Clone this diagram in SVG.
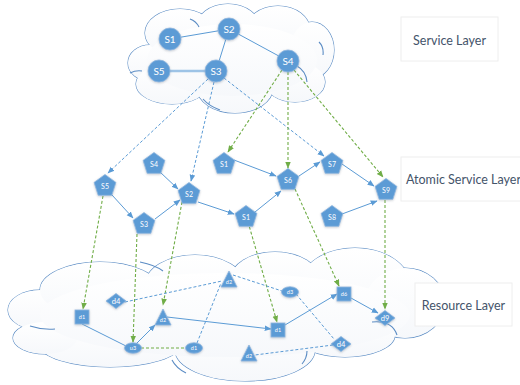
<svg xmlns="http://www.w3.org/2000/svg" width="520" height="385" viewBox="0 0 520 385">
<style>
.cl{fill:none;stroke:#5b8cc4;stroke-width:1.1}
.cf{fill:url(#cg);stroke:none}
.node{fill:#5b9bd5;stroke:#8fb6df;stroke-width:0.8;filter:url(#sh)}
.lb{font-family:Lato,"Liberation Sans",sans-serif;fill:#ffffff;text-anchor:middle;dominant-baseline:central}
.big{font-size:10px}
.mid{font-size:7px}
.sm{font-size:5.5px}
.dm{font-size:7.5px}
.box{fill:#ffffff;stroke:#eeeeee;stroke-width:1}
.lt{font-family:Lato,"Liberation Sans",sans-serif;font-size:12.5px;fill:#44546a;dominant-baseline:central}
.s{fill:none;stroke:#5b9bd5;stroke-width:1}
.d{fill:none;stroke:#5b9bd5;stroke-width:1;stroke-dasharray:3 2}
.g{fill:none;stroke:#70ad47;stroke-width:1.1;stroke-dasharray:3 2}
.ab{marker-end:url(#ma)}
.ag{marker-end:url(#mg)}
</style>
<defs>
<linearGradient id="cg" x1="0" y1="0" x2="0" y2="1">
<stop offset="0" stop-color="#ffffff"/>
<stop offset="1" stop-color="#f6f8fb"/>
</linearGradient>
<filter id="sh" x="-30%" y="-30%" width="160%" height="160%">
<feDropShadow dx="0" dy="0.8" stdDeviation="0.9" flood-color="#7a8796" flood-opacity="0.45"/>
</filter>
<marker id="ma" viewBox="0 0 10 10" refX="9" refY="5" markerWidth="7" markerHeight="7" markerUnits="userSpaceOnUse" orient="auto">
<path d="M0,1 L10,5 L0,9 z" fill="#5b9bd5"/>
</marker>
<marker id="mg" viewBox="0 0 10 10" refX="9" refY="5" markerWidth="7" markerHeight="7" markerUnits="userSpaceOnUse" orient="auto">
<path d="M0,1 L10,5 L0,9 z" fill="#70ad47"/>
</marker>
</defs>
<rect width="520" height="385" fill="#ffffff"/>

<g id="service-cloud">
<g class="cl">
<ellipse cx="150" cy="63" rx="22" ry="18"/>
<ellipse cx="180" cy="33" rx="35" ry="24"/>
<ellipse cx="228" cy="28" rx="32" ry="24"/>
<ellipse cx="278" cy="30" rx="32" ry="24"/>
<ellipse cx="312" cy="50" rx="22" ry="28"/>
<ellipse cx="295" cy="82" rx="30" ry="20"/>
<ellipse cx="235" cy="88" rx="38" ry="25"/>
<ellipse cx="172" cy="84" rx="36" ry="20"/>
</g>
<g class="cf">
<ellipse cx="150" cy="63" rx="22" ry="18"/>
<ellipse cx="180" cy="33" rx="35" ry="24"/>
<ellipse cx="228" cy="28" rx="32" ry="24"/>
<ellipse cx="278" cy="30" rx="32" ry="24"/>
<ellipse cx="312" cy="50" rx="22" ry="28"/>
<ellipse cx="295" cy="82" rx="30" ry="20"/>
<ellipse cx="235" cy="88" rx="38" ry="25"/>
<ellipse cx="172" cy="84" rx="36" ry="20"/>
<ellipse cx="232" cy="60" rx="85" ry="36"/>
</g>
<path class="cl" d="M203,99 Q209,106 220,110 M297,66 Q306,71 307,82 M190,19 Q196,21 199,27 M319,42 Q324,47 323,55 M130,73 Q136,70 142,71"/>
</g>

<g id="resource-cloud">
<g class="cl">
<ellipse cx="40" cy="310" rx="32" ry="20"/>
<ellipse cx="100" cy="290" rx="60" ry="28"/>
<ellipse cx="195" cy="285" rx="50" ry="30"/>
<ellipse cx="275" cy="280" rx="45" ry="28"/>
<ellipse cx="355" cy="285" rx="55" ry="37"/>
<ellipse cx="405" cy="303" rx="40" ry="35"/>
<ellipse cx="345" cy="335" rx="50" ry="22"/>
<ellipse cx="245" cy="350" rx="70" ry="31"/>
<ellipse cx="110" cy="345" rx="70" ry="22"/>
<ellipse cx="45" cy="338" rx="32" ry="16"/>
</g>
<g class="cf">
<ellipse cx="40" cy="310" rx="32" ry="20"/>
<ellipse cx="100" cy="290" rx="60" ry="28"/>
<ellipse cx="195" cy="285" rx="50" ry="30"/>
<ellipse cx="275" cy="280" rx="45" ry="28"/>
<ellipse cx="355" cy="285" rx="55" ry="37"/>
<ellipse cx="405" cy="303" rx="40" ry="35"/>
<ellipse cx="345" cy="335" rx="50" ry="22"/>
<ellipse cx="245" cy="350" rx="70" ry="31"/>
<ellipse cx="110" cy="345" rx="70" ry="22"/>
<ellipse cx="45" cy="338" rx="32" ry="16"/>
<ellipse cx="225" cy="315" rx="185" ry="42"/>
</g>
<path class="cl" d="M30,326 Q42,330 55,329 M140,262 Q155,265 163,271 M172,360 Q176,368 186,373 M307,351 Q307,358 302,364 M372,322 Q392,320 397,335"/>
</g>

<g id="connectors">
<line x1="170" y1="39" x2="229" y2="29" class="s"/>
<line x1="229" y1="29" x2="216" y2="71" class="s"/>
<line x1="229" y1="29" x2="288" y2="61" class="s"/>
<line x1="159" y1="71" x2="216" y2="71" stroke="#9dc3e6" stroke-width="2.5"/>
<line x1="208" y1="79" x2="108" y2="173" class="d ab"/>
<line x1="214" y1="82" x2="191" y2="181" class="d ab"/>
<line x1="224" y1="78" x2="324" y2="156" class="d ab"/>
<line x1="282" y1="70" x2="228" y2="152" class="g ag"/>
<line x1="288" y1="72" x2="288" y2="168" class="g ag"/>
<line x1="294" y1="70" x2="383" y2="177" class="g ag"/>
<line x1="112" y1="195" x2="133" y2="218" class="s ab"/>
<line x1="160" y1="172" x2="178" y2="189" class="s ab"/>
<line x1="155" y1="219" x2="180" y2="200" class="s ab"/>
<line x1="198" y1="202" x2="234" y2="214" class="s ab"/>
<line x1="234" y1="160" x2="276" y2="176" class="s ab"/>
<line x1="255" y1="212" x2="281" y2="191" class="s ab"/>
<line x1="299" y1="176" x2="320" y2="162" class="s ab"/>
<line x1="342" y1="164" x2="374" y2="186" class="s ab"/>
<line x1="342" y1="214" x2="377" y2="201" class="s ab"/>
<line x1="103" y1="196" x2="83" y2="309" class="g ag"/>
<line x1="137" y1="234" x2="133" y2="342" class="g ag"/>
<line x1="182" y1="202" x2="163" y2="305" class="g ag"/>
<line x1="248" y1="222" x2="277" y2="322" class="g ag"/>
<line x1="295" y1="189" x2="339" y2="286" class="g ag"/>
<line x1="385" y1="200" x2="385" y2="309" class="g ag"/>
<line x1="82" y1="324" x2="128" y2="347" class="s"/>
<line x1="135" y1="345" x2="155" y2="325" class="s ab"/>
<line x1="141" y1="348" x2="186" y2="348" class="g"/>
<line x1="197" y1="343" x2="221" y2="283" class="d"/>
<line x1="125" y1="302" x2="222" y2="281" class="d"/>
<line x1="233" y1="275" x2="282" y2="291" class="d"/>
<line x1="296" y1="294" x2="334" y2="339" class="d"/>
<line x1="333" y1="345" x2="255" y2="355" class="d"/>
<line x1="167" y1="317" x2="271" y2="329" class="s ab"/>
<line x1="285" y1="325" x2="337" y2="294" class="s ab"/>
<line x1="351" y1="298" x2="378" y2="313" class="s ab"/>
</g>

<g id="svc-S1"><circle cx="170" cy="39" r="11" class="node"/><text x="170" y="39" class="lb big">S1</text></g>
<g id="svc-S2"><circle cx="229" cy="29" r="11" class="node"/><text x="229" y="29" class="lb big">S2</text></g>
<g id="svc-S3"><circle cx="216" cy="71" r="11" class="node"/><text x="216" y="71" class="lb big">S3</text></g>
<g id="svc-S5"><circle cx="159" cy="71" r="11" class="node"/><text x="159" y="71" class="lb big">S5</text></g>
<g id="svc-S4"><circle cx="288" cy="61" r="11" class="node"/><text x="288" y="61" class="lb big">S4</text></g>

<g id="at-S5" transform="translate(105,186)"><polygon points="0,-11.5 10.9,-3.6 6.8,9.3 -6.8,9.3 -10.9,-3.6" class="node"/><text x="0" y="0" class="lb mid">S5</text></g>
<g id="at-S4" transform="translate(154,164)"><polygon points="0,-11.5 10.9,-3.6 6.8,9.3 -6.8,9.3 -10.9,-3.6" class="node"/><text x="0" y="0" class="lb mid">S4</text></g>
<g id="at-S2" transform="translate(189,194)"><polygon points="0,-11.5 10.9,-3.6 6.8,9.3 -6.8,9.3 -10.9,-3.6" class="node"/><text x="0" y="0" class="lb mid">S2</text></g>
<g id="at-S3" transform="translate(144,224)"><polygon points="0,-11.5 10.9,-3.6 6.8,9.3 -6.8,9.3 -10.9,-3.6" class="node"/><text x="0" y="0" class="lb mid">S3</text></g>
<g id="at-S1a" transform="translate(224,164)"><polygon points="0,-11.5 10.9,-3.6 6.8,9.3 -6.8,9.3 -10.9,-3.6" class="node"/><text x="0" y="0" class="lb mid">S1</text></g>
<g id="at-S1b" transform="translate(246,217)"><polygon points="0,-11.5 10.9,-3.6 6.8,9.3 -6.8,9.3 -10.9,-3.6" class="node"/><text x="0" y="0" class="lb mid">S1</text></g>
<g id="at-S6" transform="translate(288,180)"><polygon points="0,-11.5 10.9,-3.6 6.8,9.3 -6.8,9.3 -10.9,-3.6" class="node"/><text x="0" y="0" class="lb mid">S6</text></g>
<g id="at-S7" transform="translate(332,164)"><polygon points="0,-11.5 10.9,-3.6 6.8,9.3 -6.8,9.3 -10.9,-3.6" class="node"/><text x="0" y="0" class="lb mid">S7</text></g>
<g id="at-S8" transform="translate(332,217)"><polygon points="0,-11.5 10.9,-3.6 6.8,9.3 -6.8,9.3 -10.9,-3.6" class="node"/><text x="0" y="0" class="lb mid">S8</text></g>
<g id="at-S9" transform="translate(386,190)"><polygon points="0,-11.5 10.9,-3.6 6.8,9.3 -6.8,9.3 -10.9,-3.6" class="node"/><text x="0" y="0" class="lb mid">S9</text></g>

<g id="r-d1a"><rect x="75" y="310" width="14" height="14" class="node"/><text x="82" y="317" class="lb sm">d1</text></g>
<g id="r-d4a" transform="translate(116,301)"><polygon points="0,-7.5 10,0 0,7.5 -10,0" class="node"/><text x="0" y="0" class="lb dm">d4</text></g>
<g id="r-u3"><ellipse cx="133" cy="348" rx="8.5" ry="5.2" class="node"/><text x="133" y="348" class="lb sm">u3</text></g>
<g id="r-d2a" transform="translate(163,318)"><polygon points="0,-9 8,7 -8,7" class="node"/><text x="0" y="2" class="lb sm">d2</text></g>
<g id="r-d1b"><ellipse cx="194" cy="348" rx="8.5" ry="5.2" class="node"/><text x="194" y="348" class="lb sm">d1</text></g>
<g id="r-d2b" transform="translate(229,280)"><polygon points="0,-9 8,7 -8,7" class="node"/><text x="0" y="2" class="lb sm">d2</text></g>
<g id="r-d3"><ellipse cx="290" cy="292" rx="8.5" ry="5.2" class="node"/><text x="290" y="292" class="lb sm">d3</text></g>
<g id="r-d1c"><rect x="271" y="323" width="14" height="14" class="node"/><text x="278" y="330" class="lb sm">d1</text></g>
<g id="r-d2c" transform="translate(249,354)"><polygon points="0,-9 8,7 -8,7" class="node"/><text x="0" y="2" class="lb sm">d2</text></g>
<g id="r-d4b" transform="translate(341,344)"><polygon points="0,-7.5 10,0 0,7.5 -10,0" class="node"/><text x="0" y="0" class="lb dm">d4</text></g>
<g id="r-d6"><rect x="337" y="287" width="14" height="14" class="node"/><text x="344" y="294" class="lb sm">d6</text></g>
<g id="r-d9" transform="translate(385,318)"><polygon points="0,-7.5 10,0 0,7.5 -10,0" class="node"/><text x="0" y="0" class="lb dm">d9</text></g>

<g id="label-service"><rect x="401" y="17" width="97" height="44" class="box"/><text x="449.5" y="40" class="lt" text-anchor="middle">Service Layer</text></g>
<g id="label-atomic"><rect x="401" y="157" width="125" height="44" class="box"/><text x="406" y="179" class="lt">Atomic Service Layer</text></g>
<g id="label-resource"><rect x="415" y="283" width="97" height="43" class="box"/><text x="463.5" y="305" class="lt" text-anchor="middle">Resource Layer</text></g>
</svg>
